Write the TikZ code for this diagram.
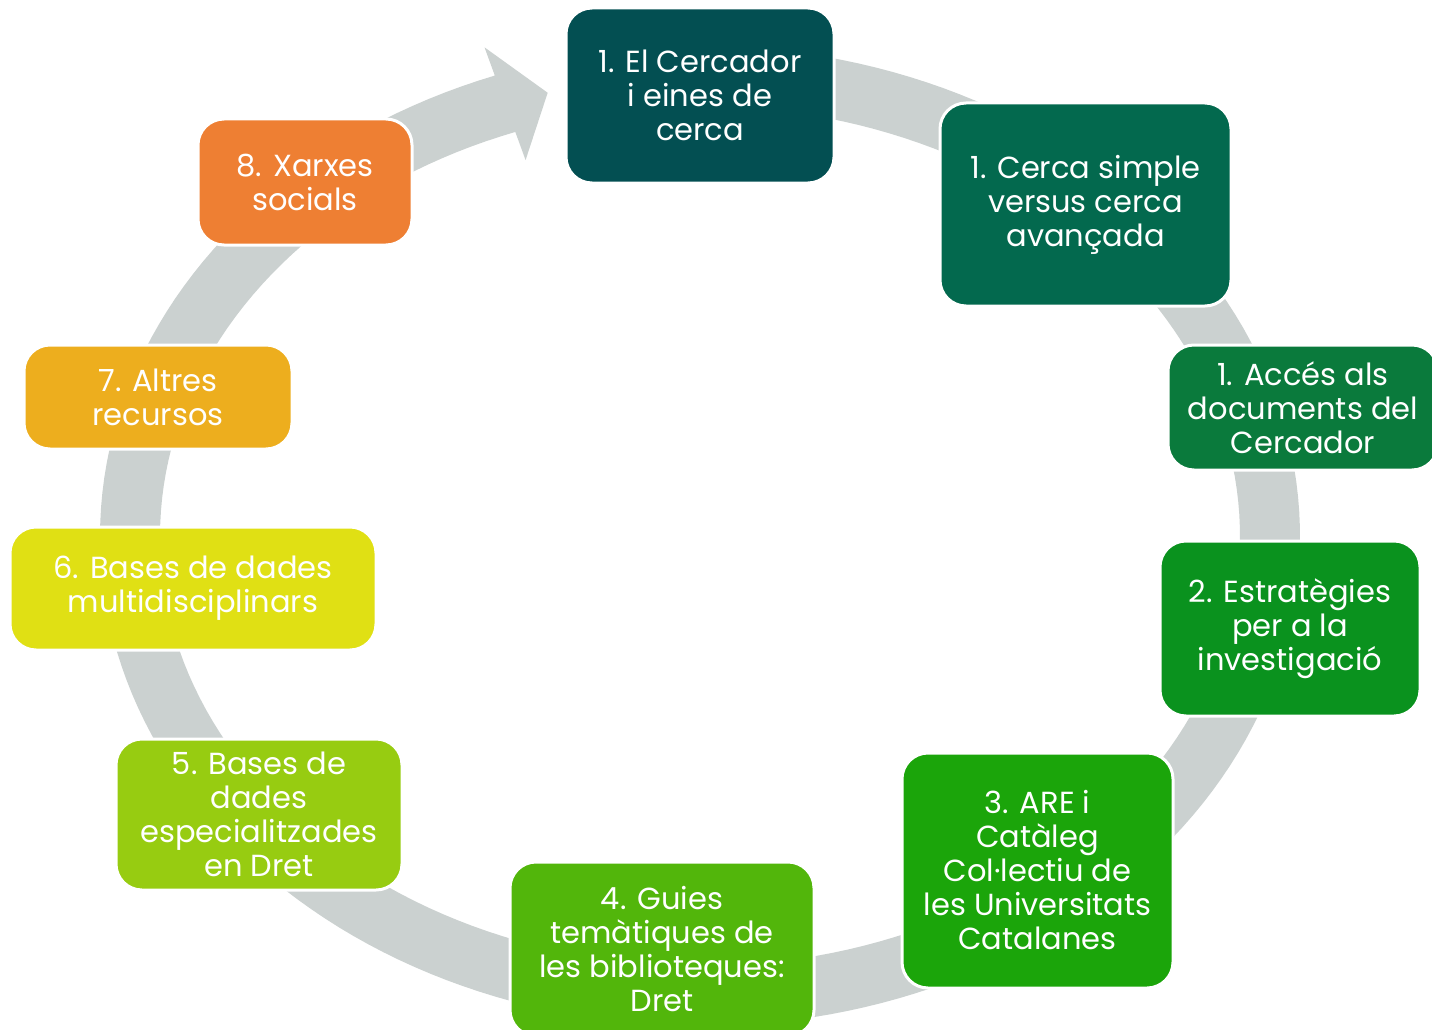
\documentclass[tikz,border=0pt]{standalone}
\usepackage{fontspec}
\setmainfont{Poppins}
\definecolor{ringc}{HTML}{CBD1D0}
\definecolor{cA}{HTML}{034F52}
\definecolor{cB}{HTML}{03694E}
\definecolor{cC}{HTML}{0A7A3C}
\definecolor{cD}{HTML}{0A921E}
\definecolor{cE}{HTML}{1BA50A}
\definecolor{cF}{HTML}{52B60B}
\definecolor{cG}{HTML}{97CC11}
\definecolor{cH}{HTML}{E0E014}
\definecolor{cI}{HTML}{EDAE1E}
\definecolor{cJ}{HTML}{EE7F33}
\tikzset{
  stagebox/.style={draw=white, line width=3pt, rounded corners=26pt, text=white,
    align=center, inner sep=0pt, font=\fontsize{30.5}{34}\selectfont}
}
\begin{document}
\begin{tikzpicture}[x=1pt,y=-1pt]
\useasboundingbox (0,0) rectangle (1432,1030);
% circular arrow
\fill[ringc] plot[domain=90:-250, samples=200] ({700+600*cos(\x)},{536-490*sin(\x)})
  -- ({700+630*cos(110)},{536-520*sin(110)})
  -- ({700+570*cos(105.5)},{536-460*sin(105.5)})
  -- ({700+510*cos(110)},{536-400*sin(110)})
  -- plot[domain=-250:90, samples=200] ({700+540*cos(\x)},{536-430*sin(\x)}) -- cycle;
% stages
\node[stagebox, fill=cA, minimum width=268pt, minimum height=175pt] (n1) at (700,95.5) {1. El Cercador\\i eines de\\cerca};
\node[stagebox, fill=cB, minimum width=291pt, minimum height=203pt] (n2) at (1085.5,204.5) {1. Cerca simple\\versus cerca\\avançada};
\node[stagebox, fill=cC, minimum width=270pt, minimum height=125pt] (n3) at (1303,407.5) {1. Accés als\\documents del\\Cercador};
\node[stagebox, fill=cD, minimum width=260pt, minimum height=175pt] (n4) at (1290,628.5) {2. Estratègies\\per a la\\investigació};
\node[stagebox, fill=cE, minimum width=271pt, minimum height=235pt] (n5) at (1037.5,870.5) {3. ARE i\\Catàleg\\Col·lectiu de\\les Universitats\\Catalanes};
\node[stagebox, fill=cF, minimum width=304pt, minimum height=174pt] (n6) at (662,949) {4. Guies\\temàtiques de\\les biblioteques:\\Dret};
\node[stagebox, fill=cG, minimum width=286pt, minimum height=151pt] (n7) at (259,814.5) {5. Bases de\\dades\\especialitzades\\en Dret};
\node[stagebox, fill=cH, minimum width=366pt, minimum height=123pt] (n8) at (193,588.5) {6. Bases de dades\\multidisciplinars};
\node[stagebox, fill=cI, minimum width=268pt, minimum height=104pt] (n9) at (158,397) {7. Altres\\recursos};
\node[stagebox, fill=cJ, minimum width=214pt, minimum height=126pt] (n10) at (305,182) {8. Xarxes\\socials};
\end{tikzpicture}
\end{document}
